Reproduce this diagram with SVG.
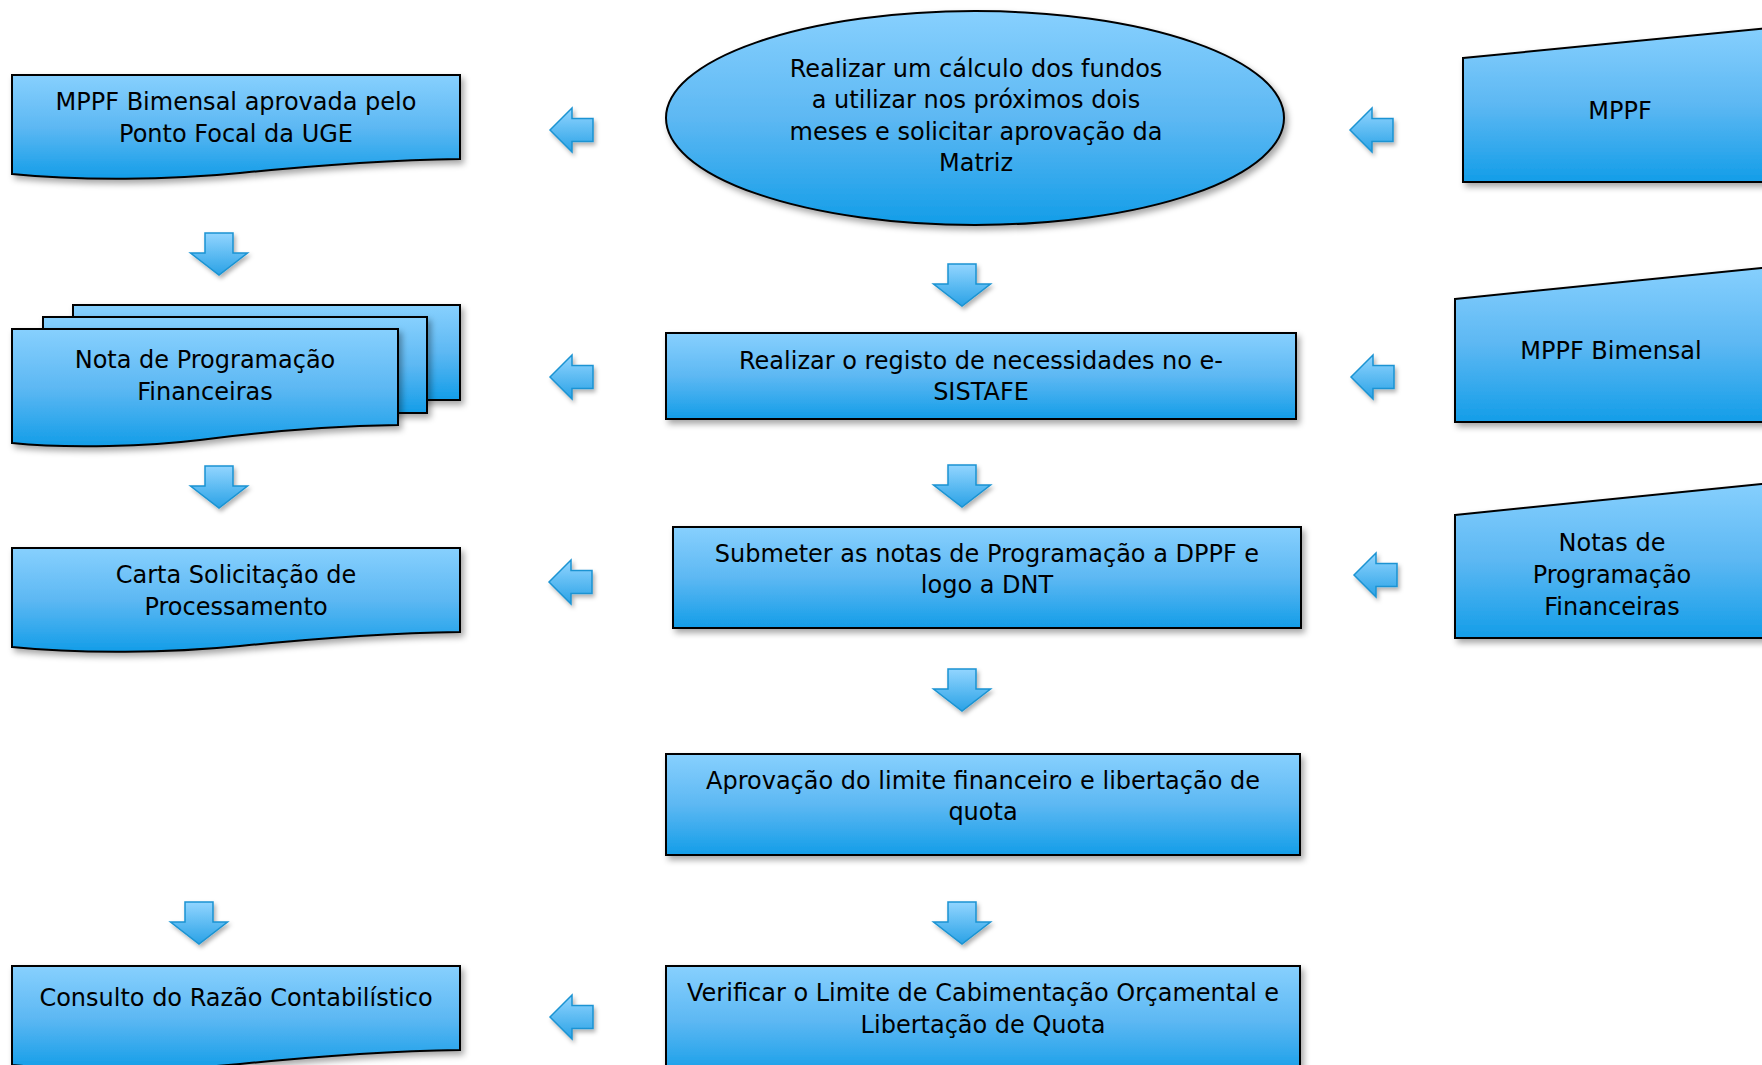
<svg xmlns="http://www.w3.org/2000/svg" width="1762" height="1065" viewBox="0 0 1762 1065">
<defs>
<linearGradient id="gBox" x1="0" y1="0" x2="0" y2="1">
<stop offset="0" stop-color="#87D0FE"/>
<stop offset="0.5" stop-color="#5DB8F3"/>
<stop offset="1" stop-color="#139DE8"/>
</linearGradient>
<linearGradient id="gArr" x1="0" y1="0" x2="0" y2="1">
<stop offset="0" stop-color="#92D5FF"/>
<stop offset="1" stop-color="#2AA2E6"/>
</linearGradient>
<filter id="sh" x="-10%" y="-10%" width="130%" height="140%">
<feDropShadow dx="3" dy="4" stdDeviation="3" flood-color="#000" flood-opacity="0.35"/>
</filter>
<filter id="shA" x="-30%" y="-30%" width="170%" height="170%">
<feDropShadow dx="2" dy="3" stdDeviation="2" flood-color="#000" flood-opacity="0.3"/>
</filter>
<path id="arrDown" d="M-14,0 H14 V20 H28.5 L0,42 L-28.5,20 H-14 Z"/>
<path id="arrLeft" d="M0,0 L22,-22 V-11.5 H43 V11.5 H22 V22 Z"/>
</defs>
<style>
.box{fill:url(#gBox);stroke:#000;stroke-width:2;filter:url(#sh)}
.arr{fill:url(#gArr);stroke:#1A93D2;stroke-width:1.5;filter:url(#shA)}
text{font-family:"DejaVu Sans","Verdana",sans-serif;font-size:24px;fill:#000;text-anchor:middle}
</style>
<rect width="1762" height="1065" fill="#fff"/>

<g id="connectors">
<use href="#arrDown" class="arr" x="219" y="233"/>
<use href="#arrDown" class="arr" x="219" y="466"/>
<use href="#arrDown" class="arr" x="199" y="902"/>
<use href="#arrDown" class="arr" x="962" y="264"/>
<use href="#arrDown" class="arr" x="962" y="465"/>
<use href="#arrDown" class="arr" x="962" y="669"/>
<use href="#arrDown" class="arr" x="962" y="902"/>
<use href="#arrLeft" class="arr" x="550" y="130"/>
<use href="#arrLeft" class="arr" x="1350" y="130"/>
<use href="#arrLeft" class="arr" x="550" y="377"/>
<use href="#arrLeft" class="arr" x="1351" y="377"/>
<use href="#arrLeft" class="arr" x="549" y="582"/>
<use href="#arrLeft" class="arr" x="1354" y="575"/>
<use href="#arrLeft" class="arr" x="550" y="1017"/>
</g>

<g id="doc-mppf-aprovada">
<path class="box" d="M12,75 H460 V159 C380,160 310,166 240,173 C170,180 80,181 12,174 Z"/>
<text x="236" y="110">MPPF Bimensal aprovada pelo</text>
<text x="236" y="142">Ponto Focal da UGE</text>
</g>

<g id="doc-nota-programacao">
<rect class="box" x="73" y="305" width="387" height="95"/>
<rect class="box" x="43" y="317" width="384" height="96"/>
<path class="box" d="M12,329 H398 V425 C330,426 260,432 200,440 C150,446 70,449 12,443 Z"/>
<text x="205" y="368">Nota de Programação</text>
<text x="205" y="400">Financeiras</text>
</g>

<g id="doc-carta">
<path class="box" d="M12,548 H460 V632 C380,633 310,639 240,646 C170,653 80,654 12,647 Z"/>
<text x="236" y="583">Carta Solicitação de</text>
<text x="236" y="615">Processamento</text>
</g>

<g id="doc-consulto">
<path class="box" d="M12,966 H460 V1050 C380,1051 310,1057 240,1064 C170,1071 80,1072 12,1065 Z"/>
<text x="236" y="1006">Consulto do Razão Contabilístico</text>
</g>

<g id="ellipse-calculo">
<ellipse class="box" cx="975" cy="118" rx="309" ry="107"/>
<text x="976" y="76.5">Realizar um cálculo dos fundos</text>
<text x="976" y="108">a utilizar nos próximos dois</text>
<text x="976" y="139.5">meses e solicitar aprovação da</text>
<text x="976" y="171">Matriz</text>
</g>

<g id="proc-registo">
<rect class="box" x="666" y="333" width="630" height="86"/>
<text x="981" y="368.5">Realizar o registo de necessidades no e-</text>
<text x="981" y="400">SISTAFE</text>
</g>

<g id="proc-submeter">
<rect class="box" x="673" y="527" width="628" height="101"/>
<text x="987" y="562">Submeter as notas de Programação a DPPF e</text>
<text x="987" y="593">logo a DNT</text>
</g>

<g id="proc-aprovacao">
<rect class="box" x="666" y="754" width="634" height="101"/>
<text x="983" y="789">Aprovação do limite financeiro e libertação de</text>
<text x="983" y="820">quota</text>
</g>

<g id="proc-verificar">
<rect class="box" x="666" y="966" width="634" height="110"/>
<text x="983" y="1001">Verificar o Limite de Cabimentação Orçamental e</text>
<text x="983" y="1033">Libertação de Quota</text>
</g>

<g id="input-mppf">
<path class="box" d="M1463,58 L1790,26 V182 H1463 Z"/>
<text x="1620" y="119">MPPF</text>
</g>

<g id="input-mppf-bimensal">
<path class="box" d="M1455,299 L1790,265 V422 H1455 Z"/>
<text x="1611" y="359">MPPF Bimensal</text>
</g>

<g id="input-notas">
<path class="box" d="M1455,515 L1790,481 V638 H1455 Z"/>
<text x="1612" y="551">Notas de</text>
<text x="1612" y="583">Programação</text>
<text x="1612" y="615">Financeiras</text>
</g>
</svg>
